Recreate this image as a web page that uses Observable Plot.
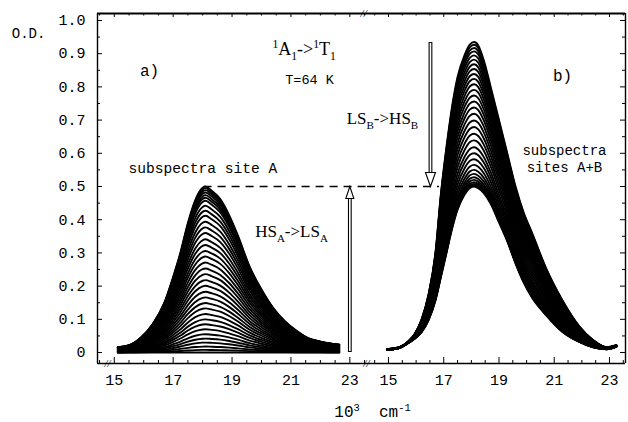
<!DOCTYPE html>
<html><head><meta charset="utf-8">
<script src="https://cdn.jsdelivr.net/npm/d3@7"></script>
<script src="https://cdn.jsdelivr.net/npm/@observablehq/plot@0.6"></script>
<style>
body{margin:0;background:#fff;}
#chart{position:relative;width:628px;height:422px;overflow:hidden;background:#fff;}
#chart svg{position:absolute;top:0;overflow:visible;background:transparent;}
</style></head>
<body><div id="chart"></div>
<script>
// ---------- data ----------
// panel a) : subspectrum of site A (largest curve, peak 0.5 OD), wavenumber in 10^3 cm-1
const xA       = [15.12, 15.5, 15.9, 16.3, 16.7, 17.0, 17.25, 17.5, 17.75, 18.0, 18.1, 18.3, 18.6, 18.9, 19.2, 19.6, 20.0, 20.4, 20.8, 21.2, 21.6, 22.0, 22.64];
const profileA = [0.016, 0.022, 0.045, 0.085, 0.150, 0.228, 0.302, 0.390, 0.459, 0.496, 0.500, 0.488, 0.462, 0.414, 0.352, 0.258, 0.190, 0.134, 0.094, 0.065, 0.043, 0.033, 0.024];
// peak heights of the successive site-A subspectra (HS_A -> LS_A)
const peaksA = [0.500, 0.495, 0.489, 0.482, 0.474, 0.466, 0.457, 0.442, 0.427, 0.412, 0.394, 0.377, 0.360, 0.341, 0.324, 0.306, 0.289, 0.271, 0.253, 0.236, 0.218, 0.201, 0.183, 0.166, 0.149, 0.133, 0.116, 0.100, 0.085, 0.070, 0.055, 0.042, 0.030, 0.018, 0.008, 0.000];

// panel b) : subspectra sites A+B, lowest (peak 0.50) and highest (peak 0.935) curves
const xB      = [14.95, 15.4, 15.7, 15.95, 16.2, 16.45, 16.7, 16.9, 17.1, 17.3, 17.5, 17.75, 17.95, 18.1, 18.25, 18.45, 18.7, 19.0, 19.3, 19.6, 19.9, 20.2, 20.7, 21.3, 21.9, 22.4, 22.9, 23.25];
const bottomB = [0.008, 0.014, 0.028, 0.042, 0.062, 0.098, 0.157, 0.228, 0.300, 0.372, 0.430, 0.475, 0.496, 0.500, 0.495, 0.480, 0.448, 0.392, 0.335, 0.268, 0.210, 0.165, 0.113, 0.062, 0.032, 0.016, 0.010, 0.018];
const topB    = [0.010, 0.016, 0.032, 0.056, 0.100, 0.175, 0.300, 0.480, 0.620, 0.740, 0.830, 0.895, 0.928, 0.935, 0.925, 0.880, 0.800, 0.700, 0.600, 0.500, 0.420, 0.360, 0.255, 0.157, 0.080, 0.038, 0.016, 0.022];
// peak heights of the successive A+B subspectra (LS_B -> HS_B)
const peaksB = [0.935, 0.927, 0.917, 0.907, 0.895, 0.882, 0.868, 0.854, 0.839, 0.824, 0.808, 0.791, 0.774, 0.756, 0.738, 0.719, 0.699, 0.679, 0.659, 0.639, 0.618, 0.600, 0.582, 0.565, 0.550, 0.538, 0.528, 0.520, 0.513, 0.508, 0.504, 0.500];

// ticks
const yLabelTicks = [0, 0.1, 0.2, 0.3, 0.4, 0.5, 0.6, 0.7, 0.8, 0.9, 1.0];
const yMinorTicks = [0.05, 0.15, 0.25, 0.35, 0.45, 0.55, 0.65, 0.75, 0.85, 0.95];
const xLabelTicks = [15, 17, 19, 21, 23];
const xMinorTicks = [14.5, 15.5, 16, 16.5, 17.5, 18, 18.5, 19.5, 20, 20.5, 21.5, 22, 22.5, 23.5];

// annotation values
const levelDashed = 0.5;
const arrowA = {x: 23.0, from: 0.0, to: 0.5};
const arrowB = {x: 16.52, from: 0.934, to: 0.5};

// ---------- build series ----------
const curvesA = peaksA.flatMap((p, k) => xA.map((x, j) => ({k, x, y: profileA[j] * p / peaksA[0]})));
const topPeak = peaksB[0], lowPeak = peaksB[peaksB.length - 1];
const curvesB = peaksB.flatMap((p, k) => xB.map((x, j) => ({k, x,
  y: bottomB[j] + (topB[j] - bottomB[j]) * (p - lowPeak) / (topPeak - lowPeak)})));

const yDomain = [-0.033, 1.021];
const mono = "Liberation Mono, DejaVu Sans Mono, monospace";
const serif = "Liberation Serif, DejaVu Serif, serif";
const lineW = 1.9;

const arrowUp = {draw(c) { c.moveTo(0, 0); c.lineTo(4, 12); c.lineTo(-4, 12); c.closePath(); }};
const arrowDown = {draw(c) { c.moveTo(0, 0); c.lineTo(5, -14); c.lineTo(-5, -14); c.closePath(); }};

const common = {height: 422, marginTop: 13, marginBottom: 59,
  style: {fontFamily: mono, fontSize: "15px", background: "transparent", overflow: "visible", color: "black"}};

// ---------- left panel ----------
const xDomA = [14.43, 23.6];
const left = Plot.plot({
  ...common, width: 367, marginLeft: 97, marginRight: 0,
  x: {domain: xDomA}, y: {domain: yDomain},
  marks: [
    Plot.line(curvesA, {x: "x", y: "y", z: "k", stroke: "black", strokeWidth: lineW, curve: "monotone-x"}),
    Plot.ruleY([levelDashed], {x1: 18.05, x2: xDomA[1], stroke: "black", strokeWidth: 1.3, strokeDasharray: "8,6"}),
    // arrow HS_A -> LS_A
    Plot.ruleX([arrowA.x], {y1: arrowA.from, y2: arrowA.to - 0.03, stroke: "black", strokeWidth: 3.8}),
    Plot.ruleX([arrowA.x], {y1: arrowA.from + 0.003, y2: arrowA.to - 0.03, stroke: "white", strokeWidth: 1.6}),
    Plot.dot([arrowA], {x: "x", y: "to", r: 5, symbol: arrowUp, fill: "white", stroke: "black", strokeWidth: 1.1}),
    // frame
    Plot.ruleX([xDomA[0]], {stroke: "black", strokeWidth: 1.4}),
    Plot.ruleY([yDomain[1]], {stroke: "black", strokeWidth: 2}),
    Plot.ruleY([yDomain[0]], {stroke: "black", strokeWidth: 1.4}),
    Plot.tickY(yLabelTicks, {y: d => d, insetRight: 270 - 5, stroke: "black"}),
    Plot.tickY(yMinorTicks, {y: d => d, insetRight: 270 - 3, stroke: "black"}),
    Plot.tickX(xLabelTicks, {x: d => d, insetTop: 350 - 6, stroke: "black"}),
    Plot.tickX(xMinorTicks, {x: d => d, insetTop: 350 - 3, stroke: "black"}),
    Plot.tickX(xLabelTicks, {x: d => d, insetBottom: 350 - 4, stroke: "black"}),
    Plot.tickX(xMinorTicks, {x: d => d, insetBottom: 350 - 2.5, stroke: "black"}),
    Plot.axisY({ticks: yLabelTicks, tickSize: 0, tickPadding: 12, label: null,
      tickFormat: d => d === 0 ? "0" : d.toFixed(1)}),
    Plot.axisX({ticks: xLabelTicks, tickSize: 0, tickPadding: 11, label: null}),
    // texts
    Plot.text(["O.D."], {x: 12.09, y: 0.961, fontSize: 14, fontFamily: mono}),
    Plot.text(["a)"], {x: 16.2, y: 0.849, fontSize: 16, fontFamily: mono}),
    Plot.text(["^{1}A_{1}->^{1}T_{1}"], {x: 21.45, y: 0.913, fontSize: 18, fontFamily: serif}),
    Plot.text(["T=64 K"], {x: 21.63, y: 0.822, fontSize: 13.5, fontFamily: mono}),
    Plot.text(["subspectra site A"], {x: 18.01, y: 0.554, fontSize: 14.6, fontFamily: mono}),
    Plot.text(["HS_{A}->LS_{A}"], {x: 21.02, y: 0.364, fontSize: 17, fontFamily: serif}),
    Plot.text(["//"], {x: 14.77, y: yDomain[0], fontSize: 11, fontFamily: serif, fontStyle: "italic"}),
    Plot.text(["//"], {x: 23.47, y: yDomain[1], fontSize: 11, fontFamily: serif, fontStyle: "italic"})
  ]
});

// ---------- right panel ----------
const xDomB = [14.24, 23.58];
const right = Plot.plot({
  ...common, width: 261, marginLeft: 0, marginRight: 3,
  x: {domain: xDomB}, y: {domain: yDomain, axis: null},
  marks: [
    Plot.line(curvesB, {x: "x", y: "y", z: "k", stroke: "black", strokeWidth: lineW, curve: "monotone-x"}),
    Plot.ruleY([levelDashed], {x1: xDomB[0], x2: 16.85, stroke: "black", strokeWidth: 1.3, strokeDasharray: "8,6"}),
    // arrow LS_B -> HS_B
    Plot.ruleX([arrowB.x], {y1: arrowB.from, y2: arrowB.to + 0.03, stroke: "black", strokeWidth: 3.8}),
    Plot.ruleX([arrowB.x], {y1: arrowB.from - 0.003, y2: arrowB.to + 0.03, stroke: "white", strokeWidth: 1.6}),
    Plot.dot([arrowB], {x: "x", y: "to", r: 5, symbol: arrowDown, fill: "white", stroke: "black", strokeWidth: 1.1}),
    // frame
    Plot.ruleX([xDomB[1]], {stroke: "black", strokeWidth: 1.4}),
    Plot.ruleY([yDomain[1]], {stroke: "black", strokeWidth: 2}),
    Plot.ruleY([yDomain[0]], {stroke: "black", strokeWidth: 1.4}),
    Plot.tickY(yLabelTicks, {y: d => d, insetLeft: 258 - 5, stroke: "black"}),
    Plot.tickY(yMinorTicks, {y: d => d, insetLeft: 258 - 3, stroke: "black"}),
    Plot.tickX(xLabelTicks, {x: d => d, insetTop: 350 - 6, stroke: "black"}),
    Plot.tickX(xMinorTicks, {x: d => d, insetTop: 350 - 3, stroke: "black"}),
    Plot.tickX(xLabelTicks, {x: d => d, insetBottom: 350 - 4, stroke: "black"}),
    Plot.tickX(xMinorTicks, {x: d => d, insetBottom: 350 - 2.5, stroke: "black"}),
    Plot.axisX({ticks: xLabelTicks, tickSize: 0, tickPadding: 11, label: null}),
    // texts
    Plot.text(["b)"], {x: 21.3, y: 0.834, fontSize: 16, fontFamily: mono}),
    Plot.text(["LS_{B}->HS_{B}"], {x: 14.78, y: 0.705, fontSize: 17, fontFamily: serif}),
    Plot.text(["subspectra", "sites A+B"], {x: 21.37, y: [0.607, 0.557], fontSize: 14, fontFamily: mono}),
    Plot.text(["//"], {x: 14.2, y: yDomain[0], fontSize: 11, fontFamily: serif, fontStyle: "italic"}),
    Plot.text(["10^{3}  cm^{-1}"], {x: 14.42, y: -0.178, fontSize: 16, fontFamily: mono})
  ]
});

const chart = document.getElementById("chart");
left.style.left = "0px";
right.style.left = "367px";
chart.append(left, right);

// superscripts / subscripts written as ^{..} and _{..}
function richText(svg) {
  d3.select(svg).selectAll("text").each(function () {
    const t = this.textContent;
    if (!/[\^_]\{/.test(t)) return;
    const fs = parseFloat(getComputedStyle(this).fontSize) || 15;
    const parts = [];
    const re = /([\^_])\{([^}]*)\}/g;
    let last = 0, m;
    while ((m = re.exec(t))) {
      if (m.index > last) parts.push({s: t.slice(last, m.index), k: 0});
      parts.push({s: m[2], k: m[1] === "^" ? -1 : 1});
      last = re.lastIndex;
    }
    if (last < t.length) parts.push({s: t.slice(last), k: 0});
    const el = d3.select(this);
    el.text(null);
    let cur = 0;
    for (const p of parts) {
      const off = p.k === 0 ? 0 : p.k < 0 ? -0.38 * fs : 0.28 * fs;
      const ts = el.append("tspan").text(p.s).attr("dy", off - cur);
      if (p.k !== 0) ts.attr("font-size", 0.65 * fs);
      cur = off;
    }
  });
}
richText(left);
richText(right);
</script>
</body></html>
